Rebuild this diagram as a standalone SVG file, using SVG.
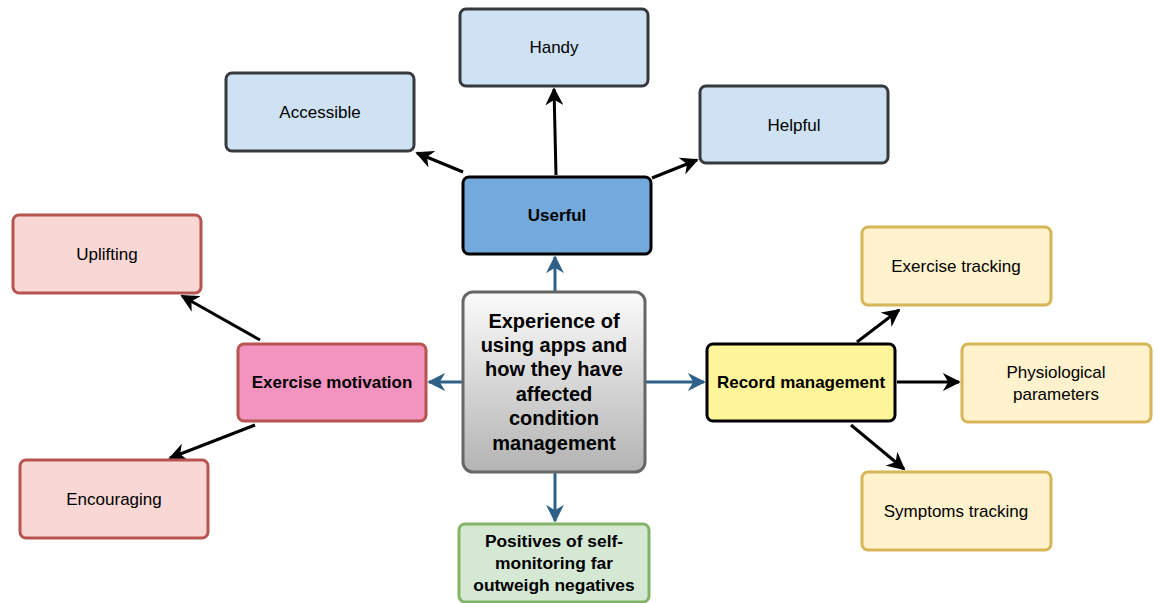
<svg xmlns="http://www.w3.org/2000/svg" width="1158" height="603" viewBox="0 0 1158 603">
<style>
text{font-family:"Liberation Sans",Arial,sans-serif;fill:#000;text-anchor:middle;dominant-baseline:central}
.n{font-size:17px}
.b{font-size:17px;font-weight:bold}
.p{font-size:17.4px;font-weight:bold}
.c{font-size:20px;font-weight:bold}
.blue{fill:#cfe2f3;stroke:#36393d;stroke-width:3}
.red{fill:#f8d7d4;stroke:#b85450;stroke-width:3}
.yel{fill:#fff2cc;stroke:#d6b656;stroke-width:3}
.bl{stroke:#2f6088;stroke-width:3;fill:none}
.k{stroke:#000;stroke-width:3;fill:none}
</style>
<defs>
<linearGradient id="g" x1="0" y1="0" x2="0" y2="1">
<stop offset="0" stop-color="#fbfbfb"/>
<stop offset="1" stop-color="#b3b3b3"/>
</linearGradient>
<marker id="ab" viewBox="0 0 10 10" refX="9" refY="5" markerWidth="6" markerHeight="6" orient="auto" markerUnits="strokeWidth">
<path d="M0,0 L10,5 L0,10 L3,5 Z" fill="#2f6088"/>
</marker>
<marker id="ak" viewBox="0 0 10 10" refX="9" refY="5" markerWidth="6" markerHeight="6" orient="auto" markerUnits="strokeWidth">
<path d="M0,0 L10,5 L0,10 L3,5 Z" fill="#000"/>
</marker>
</defs>
<g id="connectors">
<line class="bl" x1="555" y1="291" x2="555" y2="257" marker-end="url(#ab)"/>
<line class="bl" x1="462" y1="382" x2="429" y2="382" marker-end="url(#ab)"/>
<line class="bl" x1="646" y1="382" x2="704" y2="382" marker-end="url(#ab)"/>
<line class="bl" x1="555" y1="473" x2="555" y2="521" marker-end="url(#ab)"/>
<line class="k" x1="556" y1="175" x2="554" y2="89" marker-end="url(#ak)"/>
<line class="k" x1="463" y1="172" x2="417" y2="153" marker-end="url(#ak)"/>
<line class="k" x1="652" y1="178" x2="697" y2="160" marker-end="url(#ak)"/>
<line class="k" x1="260" y1="340" x2="182" y2="296" marker-end="url(#ak)"/>
<line class="k" x1="255" y1="425" x2="170" y2="458" marker-end="url(#ak)"/>
<line class="k" x1="857" y1="342" x2="899" y2="310" marker-end="url(#ak)"/>
<line class="k" x1="897" y1="382" x2="959" y2="382" marker-end="url(#ak)"/>
<line class="k" x1="851" y1="425" x2="904" y2="469" marker-end="url(#ak)"/>
</g>
<g id="center">
<rect x="463" y="292" width="182" height="180" rx="10" fill="url(#g)" stroke="#666" stroke-width="3"/>
<text class="c" x="554" y="321">Experience of</text>
<text class="c" x="554" y="345">using apps and</text>
<text class="c" x="554" y="369">how they have</text>
<text class="c" x="554" y="394">affected</text>
<text class="c" x="554" y="418">condition</text>
<text class="c" x="554" y="443">management</text>
</g>
<g id="userful">
<rect x="463" y="177" width="188" height="77" rx="6" fill="#74a9dc" stroke="#000" stroke-width="3"/>
<text class="b" x="557" y="215">Userful</text>
</g>
<g id="handy">
<rect class="blue" x="460" y="9" width="188" height="77" rx="6"/>
<text class="n" x="554" y="47">Handy</text>
</g>
<g id="accessible">
<rect class="blue" x="226" y="73" width="188" height="78" rx="6"/>
<text class="n" x="320" y="112">Accessible</text>
</g>
<g id="helpful">
<rect class="blue" x="700" y="86" width="188" height="77" rx="6"/>
<text class="n" x="794" y="125">Helpful</text>
</g>
<g id="exercise-motivation">
<rect x="238" y="344" width="188" height="77" rx="6" fill="#f294bf" stroke="#b85450" stroke-width="3"/>
<text class="b" x="332" y="382">Exercise motivation</text>
</g>
<g id="uplifting">
<rect class="red" x="13" y="215" width="188" height="78" rx="6"/>
<text class="n" x="107" y="254">Uplifting</text>
</g>
<g id="encouraging">
<rect class="red" x="20" y="460" width="188" height="78" rx="6"/>
<text class="n" x="114" y="499">Encouraging</text>
</g>
<g id="record-management">
<rect x="707" y="344" width="188" height="77" rx="6" fill="#fef59a" stroke="#000" stroke-width="3"/>
<text class="b" x="801" y="382">Record management</text>
</g>
<g id="exercise-tracking">
<rect class="yel" x="862" y="227" width="189" height="78" rx="6"/>
<text class="n" x="956" y="266">Exercise tracking</text>
</g>
<g id="physiological">
<rect class="yel" x="962" y="344" width="189" height="78" rx="6"/>
<text class="n" x="1056" y="372">Physiological</text>
<text class="n" x="1056" y="394">parameters</text>
</g>
<g id="symptoms-tracking">
<rect class="yel" x="862" y="472" width="189" height="78" rx="6"/>
<text class="n" x="956" y="511">Symptoms tracking</text>
</g>
<g id="positives">
<rect x="459" y="524" width="190" height="78" rx="6" fill="#d5e8d4" stroke="#82b366" stroke-width="3"/>
<text class="p" x="554" y="541">Positives of self-</text>
<text class="p" x="554" y="563">monitoring far</text>
<text class="p" x="554" y="585">outweigh negatives</text>
</g>
</svg>
